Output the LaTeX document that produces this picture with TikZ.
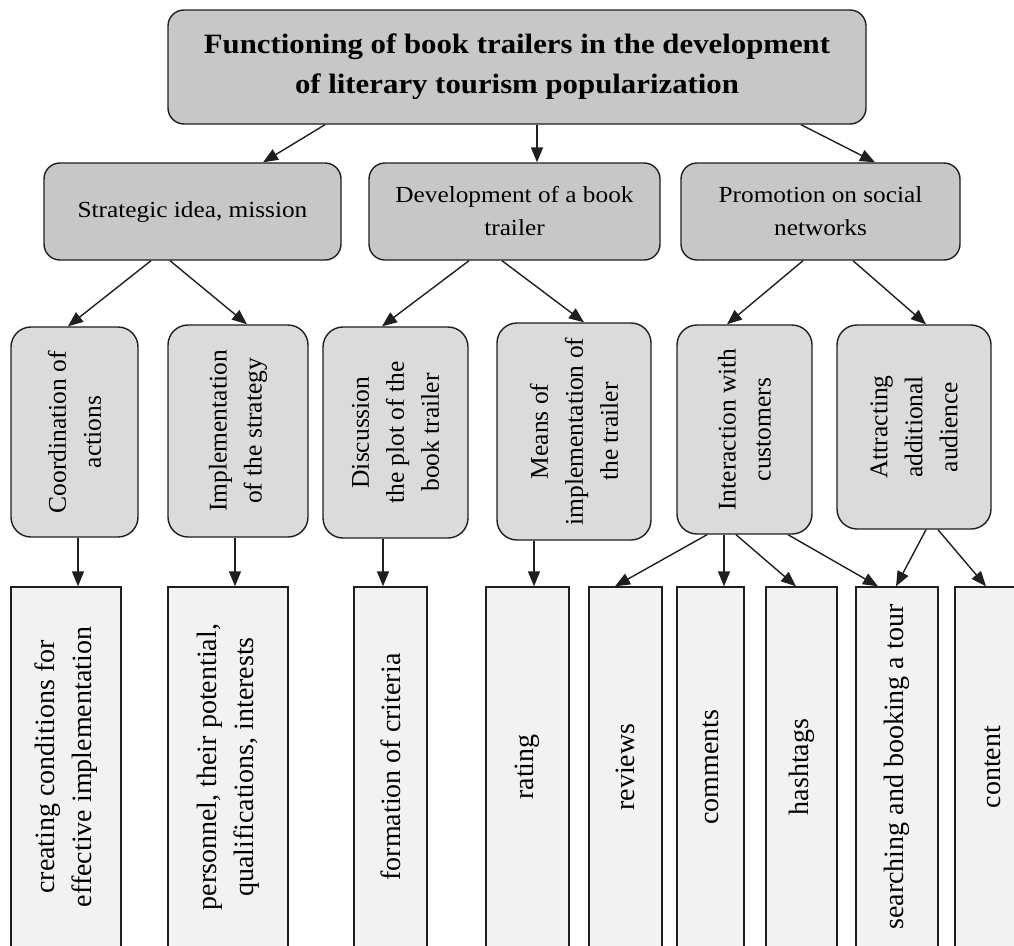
\documentclass[tikz,border=0pt]{standalone}
\usepackage{fontspec}
\setmainfont{Liberation Serif}
\newfontfamily\widefont{Liberation Serif}[FakeStretch=1.1]
\usetikzlibrary{arrows.meta}

\begin{document}
\begin{tikzpicture}[x=1pt,y=1pt,>={Triangle[length=15pt,width=12pt]}]
  \tikzstyle{every node}=[draw=black!88,line width=1.4pt,align=center,inner sep=2pt]
  \tikzstyle{head}=[fill=black!22,rounded corners=16pt,font=\widefont\fontsize{28}{40}\selectfont\bfseries]
  \tikzstyle{branch}=[fill=black!22,rounded corners=16pt,minimum height=97pt,font=\widefont\fontsize{23}{33}\selectfont]
  \tikzstyle{sub}=[fill=black!14,rounded corners=20pt,rotate=90,font=\fontsize{25.5}{35}\selectfont]
  \tikzstyle{leaf}=[fill=black!5,rotate=90,minimum width=360pt,font=\fontsize{28}{37}\selectfont]
  \tikzstyle{link}=[->,line width=1.4pt,draw=black!88]
  \useasboundingbox (0,0) rectangle (1014,-945);

  \node[head,minimum width=698pt,minimum height=114pt] (title) at (517,-67)
    {Functioning of book trailers in the development\\of literary tourism popularization};

  \node[branch,minimum width=297pt] (strat) at (192.5,-211.5) {Strategic idea, mission};
  \node[branch,minimum width=291pt] (dev) at (514.5,-211.5) {Development of a book\\trailer};
  \node[branch,minimum width=279pt] (promo) at (820.5,-211.5) {Promotion on social\\networks};

  \node[sub,minimum width=210pt,minimum height=127pt] (coord) at (74.5,-432) {Coordination of\\actions};
  \node[sub,minimum width=212pt,minimum height=140pt] (impl) at (238,-431) {Implementation\\of the strategy};
  \node[sub,minimum width=211pt,minimum height=145pt] (disc) at (395.5,-432.5) {Discussion\\the plot of the\\book trailer};
  \node[sub,minimum width=217pt,minimum height=154pt] (means) at (574,-431.5) {Means of\\implementation of\\the trailer};
  \node[sub,minimum width=209pt,minimum height=135pt] (inter) at (744.5,-429.5) {Interaction with\\customers};
  \node[sub,minimum width=204pt,minimum height=154pt] (attr) at (914,-427) {Attracting\\additional\\audience};

  \foreach \nm/\cx/\w/\txt in {
      create/66/110/{creating conditions for\\effective implementation},
      staff/228/120/{personnel, their potential,\\qualifications, interests},
      criteria/390.5/73/{formation of criteria},
      rating/527.5/83/{rating},
      reviews/625.5/73/{reviews},
      comments/710.5/67/{comments},
      hashtags/801.5/71/{hashtags},
      search/897/82/{searching and booking a tour},
      content/992.5/75/{content}}
    \node[leaf,minimum height=\w pt] (\nm) at (\cx,-767) {\txt};

  \foreach \a/\xa/\b/\xb in {
      title.south/325/strat.north/263, title.south/537/dev.north/537,
      title.south/801/promo.north/875,
      strat.south/151/coord.east/68, strat.south/170/impl.east/247,
      dev.south/469/disc.east/382, dev.south/502/means.east/584,
      promo.south/803/inter.east/727, promo.south/853/attr.east/926,
      coord.west/78/create.east/78, impl.west/235/staff.east/235,
      disc.west/383/criteria.east/383, means.west/534/rating.east/534,
      inter.west/707/reviews.east/615, inter.west/724/comments.east/724,
      inter.west/736/hashtags.east/796, inter.west/788/search.east/878,
      attr.west/926/search.east/896, attr.west/938/content.east/986}
    \draw[link] (\a -| \xa,0) -- (\b -| \xb,0);
\end{tikzpicture}
\end{document}
